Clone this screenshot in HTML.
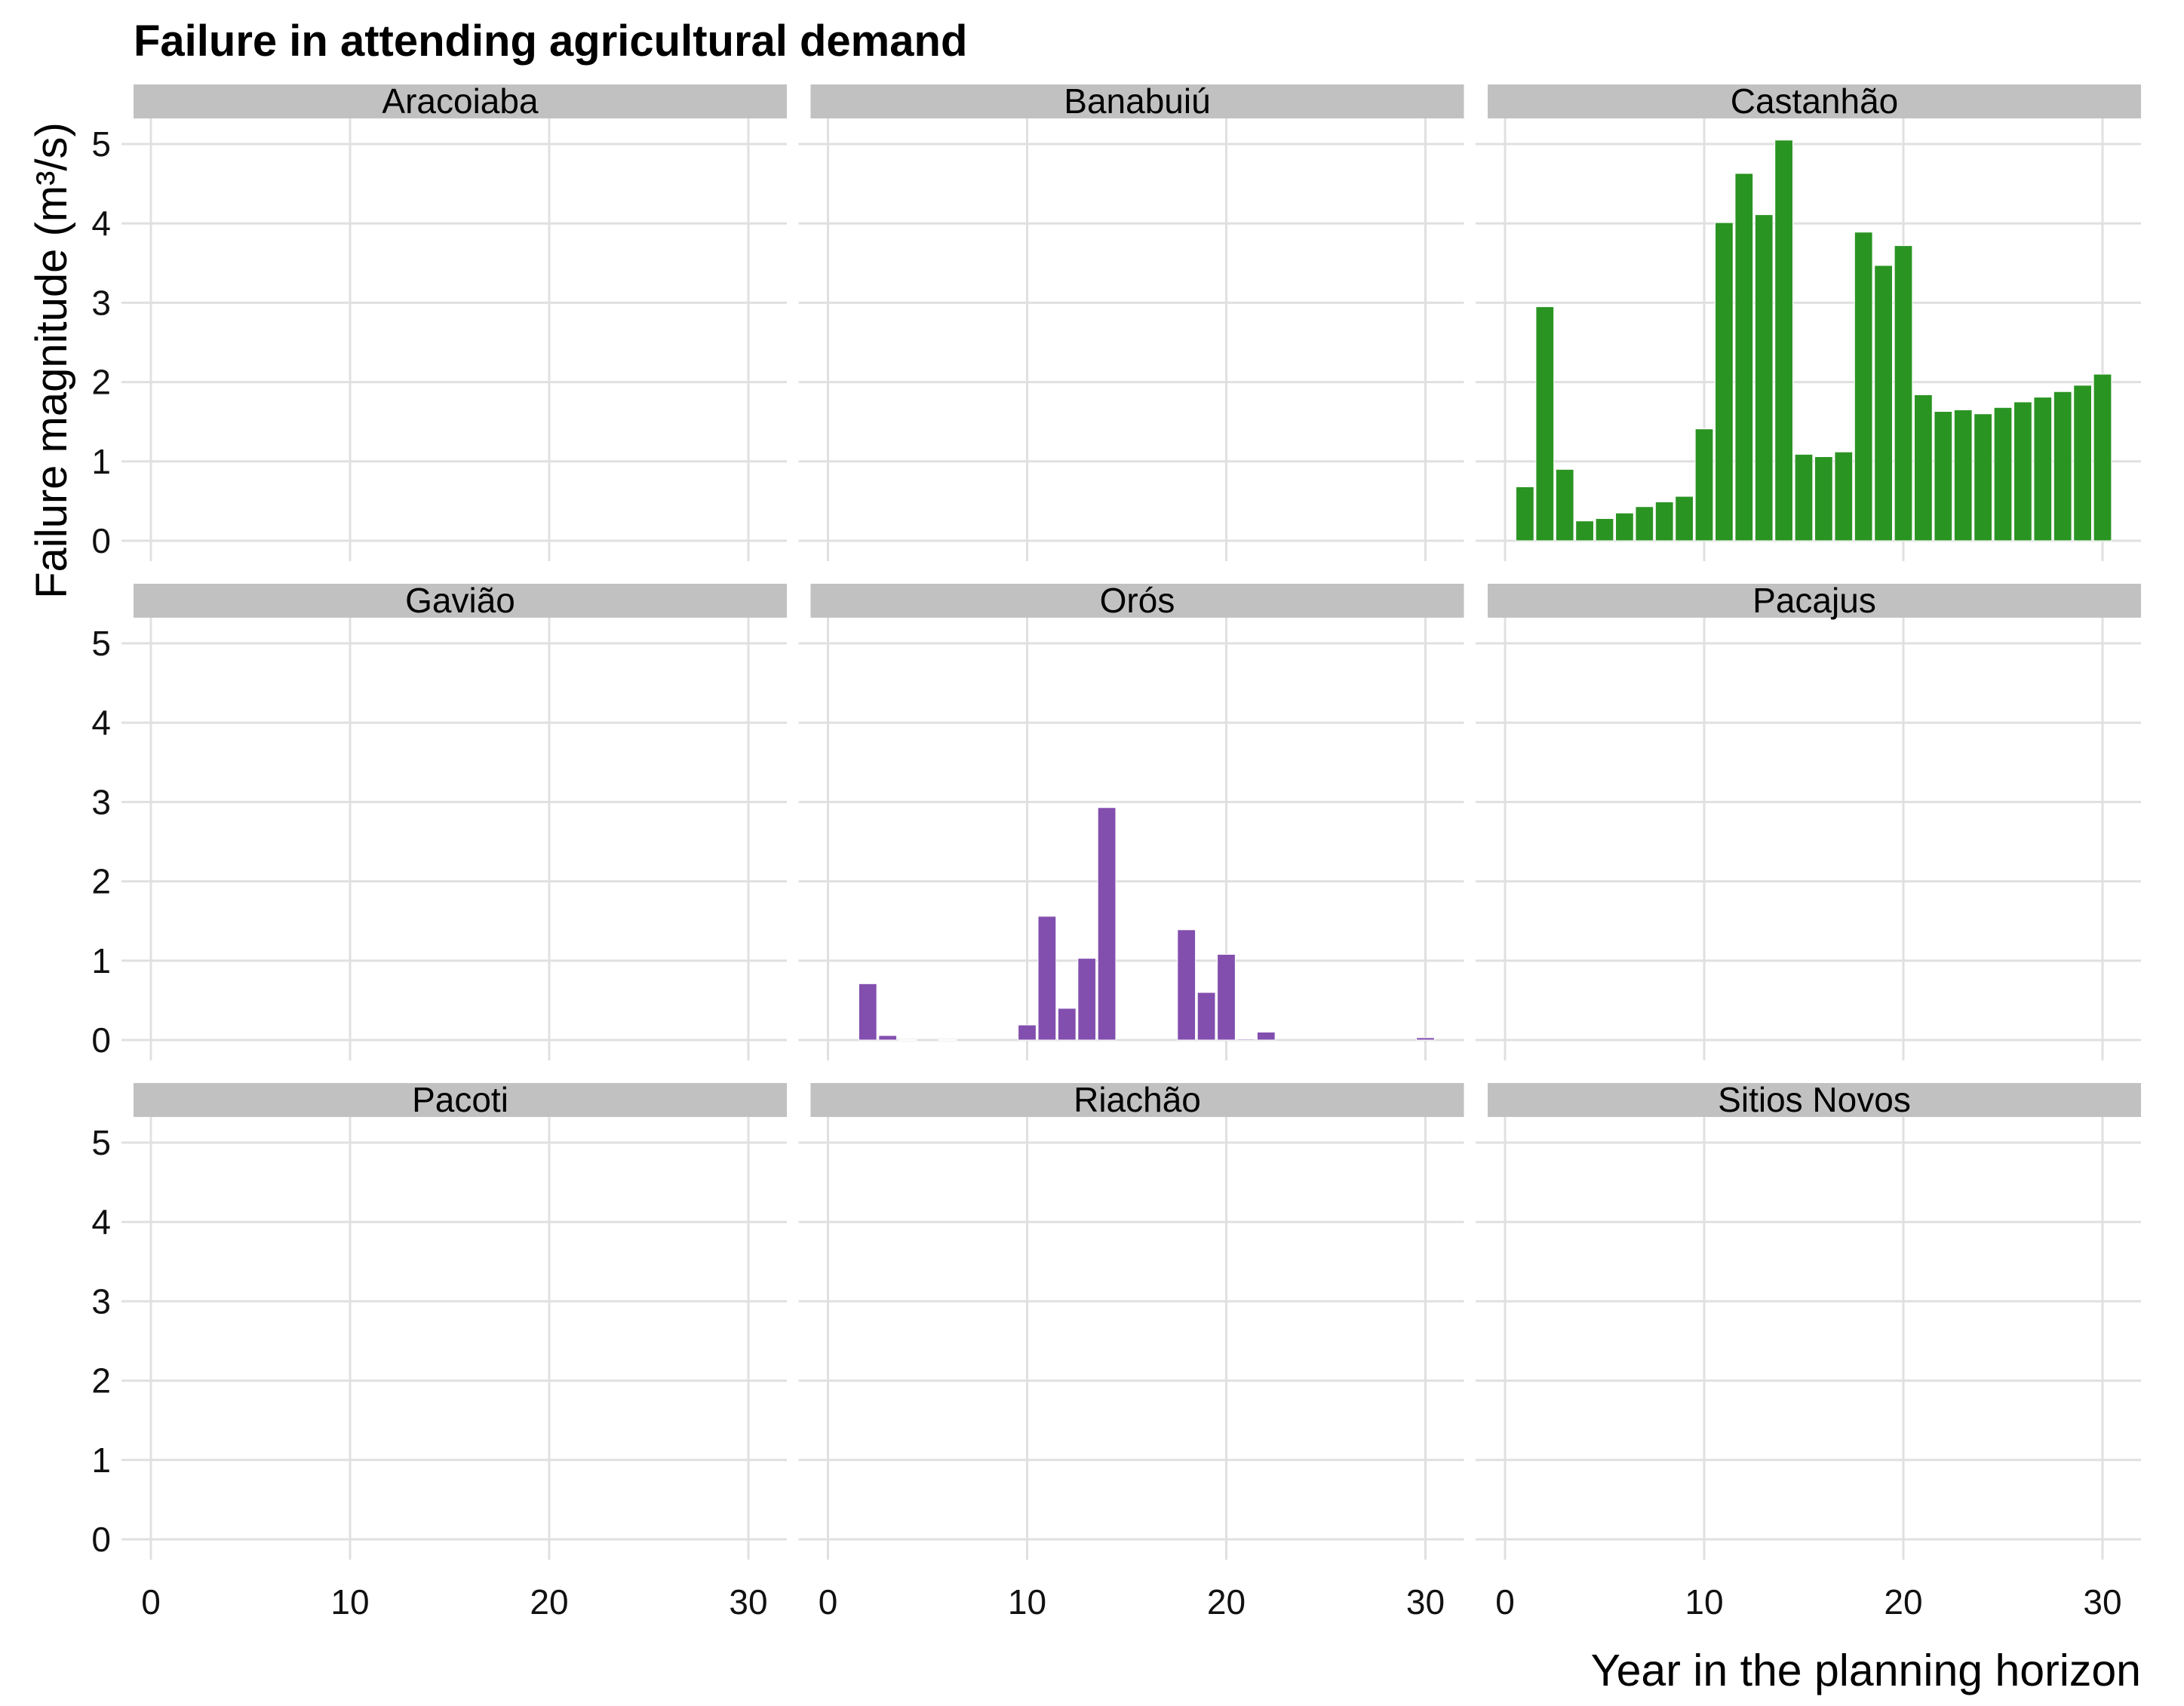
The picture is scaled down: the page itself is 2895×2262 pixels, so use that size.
<!DOCTYPE html>
<html><head><meta charset="utf-8"><style>
html,body{margin:0;padding:0;background:#fff;}
svg{display:block;font-family:"Liberation Sans",Arial,sans-serif;}
</style></head><body>
<svg id="chart" width="2895" height="2262" viewBox="0 0 2895 2262" xmlns="http://www.w3.org/2000/svg">
<text x="177" y="74" font-size="58" font-weight="bold" fill="#000">Failure in attending agricultural demand</text>
<text transform="translate(88,478) rotate(-90)" text-anchor="middle" font-size="58" fill="#000">Failure magnitude (m³/s)</text>
<text x="2838" y="2235" text-anchor="end" font-size="59" fill="#000">Year in the planning horizon</text>
<g id="panels"></g>
</svg>
<script>
const reservoirs = ["Aracoiaba","Banabuiú","Castanhão","Gavião","Orós","Pacajus","Pacoti","Riachão","Sitios Novos"];
const years = [1,2,3,4,5,6,7,8,9,10,11,12,13,14,15,16,17,18,19,20,21,22,23,24,25,26,27,28,29,30];
const castanhaoValues = [0.68,2.95,0.90,0.25,0.28,0.35,0.43,0.49,0.56,1.41,4.01,4.63,4.11,5.05,1.09,1.06,1.12,3.89,3.47,3.72,1.84,1.63,1.65,1.60,1.68,1.75,1.81,1.88,1.96,2.10];
const orosValues = [0,0.71,0.057,0.005,0,0.005,0,0,0,0.19,1.56,0.40,1.03,2.93,0,0,0,1.39,0.60,1.08,0.013,0.10,0,0,0,0,0,0,0,0.03];
const seriesByReservoir = {"Castanhão": castanhaoValues, "Orós": orosValues};
const seriesColors = {"Castanhão": "#2a9422", "Orós": "#824fae"};
const yTicks = [0,1,2,3,4,5];
const xTicks = [0,10,20,30];

const NS = "http://www.w3.org/2000/svg";
const g = document.getElementById('panels');
function mk(tag, attrs, parent){const e=document.createElementNS(NS,tag);for(const k in attrs)e.setAttribute(k,attrs[k]);parent.appendChild(e);return e;}
const colPitch = 897.5, rowPitch = 662;
const unitX = 26.4, unitY = 105.2;
reservoirs.forEach((name, i) => {
  const c = i % 3, r = Math.floor(i / 3);
  const x0 = 200 + c * colPitch;
  const y0 = 717 + r * rowPitch;
  const left = x0 - 23, right = x0 + 843;
  const stripTop = 112 + r * rowPitch, stripBot = 157 + r * rowPitch;
  const panelBot = y0 + 11;
  const xs = v => x0 + v * unitX;
  const ys = v => y0 - v * unitY;
  const pg = mk('g', {}, g);
  
  
  const strip = mk('rect', {x:left, y:stripTop, width:right-left, height:stripBot-stripTop, fill:'#c1c1c1'}, pg);
  
  
  const st = mk('text', {x:(left+right)/2, y:stripBot-7, 'text-anchor':'middle', 'font-size':46, fill:'#000'}, pg);
  st.textContent = name;
  
  
  yTicks.forEach(t => {
    const gl = mk('line', {x1:left-16, x2:right, y1:ys(t), y2:ys(t), stroke:'#e0e0e0', 'stroke-width':3}, pg);
    
    
    if (c === 0) {
      const tl = mk('text', {x:147, y:ys(t)+16, 'text-anchor':'end', 'font-size':46, fill:'#111'}, pg);
      tl.textContent = t;
      
      
    }
  });
  xTicks.forEach(t => {
    const gl = mk('line', {x1:xs(t), x2:xs(t), y1:stripBot, y2:panelBot+16, stroke:'#e0e0e0', 'stroke-width':3}, pg);
    
    
    if (r === 2) {
      const tl = mk('text', {x:xs(t), y:2140, 'text-anchor':'middle', 'font-size':46, fill:'#111'}, pg);
      tl.textContent = t;
      
      
    }
  });
  const vals = seriesByReservoir[name];
  if (vals) {
    vals.forEach((v, k) => {
      if (v <= 0) return;
      const yr = years[k];
      const b = mk('rect', {x:xs(yr-0.45), y:ys(v), width:0.9*unitX, height:Math.max(ys(0)-ys(v),1), fill:seriesColors[name], stroke:'#fff', 'stroke-width':1}, pg);
      
      
    });
  }
});
</script>
</body></html>
